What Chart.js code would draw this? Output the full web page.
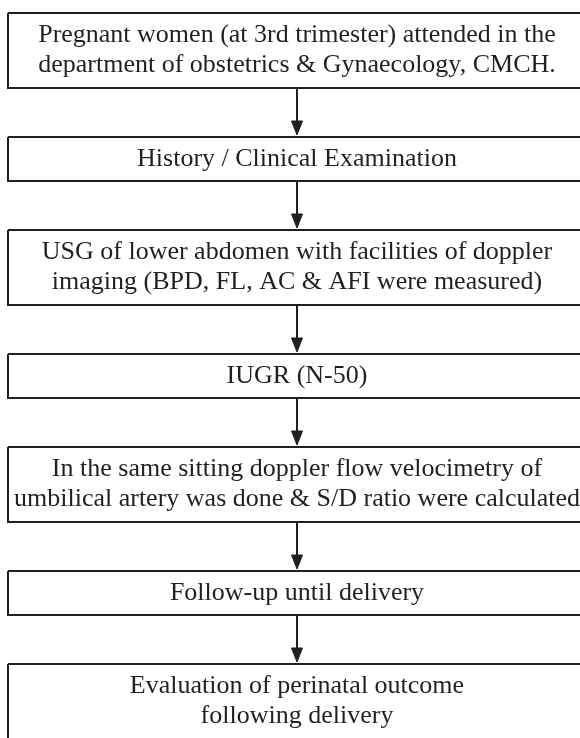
<!DOCTYPE html>
<html>
<head>
<meta charset="utf-8">
<script src="https://cdn.jsdelivr.net/npm/chart.js@4/dist/chart.umd.min.js"></script>
<style>
  html, body { margin: 0; padding: 0; background: #ffffff; }
  #wrap { width: 580px; height: 738px; position: relative; }
</style>
</head>
<body>
<div id="wrap"><canvas id="c" width="580" height="738"></canvas></div>
<script>
// ---- Flowchart content (steps, top to bottom) ----
const steps = [
  ["Pregnant women (at 3rd trimester) attended in the", "department of obstetrics & Gynaecology, CMCH."],
  ["History / Clinical Examination"],
  ["USG of lower abdomen with facilities of doppler", "imaging (BPD, FL, AC & AFI were measured)"],
  ["IUGR (N-50)"],
  ["In the same sitting doppler flow velocimetry of", "umbilical artery was done & S/D ratio were calculated"],
  ["Follow-up until delivery"],
  ["Evaluation of perinatal outcome", "following delivery"]
];

// ---- Layout / style (kept separate from content) ----
const W = 580, H = 738;
const layout = {
  left: 8, right: 586, top: 13,
  oneLineH: 44, twoLineH: 75, gap: 49,
  arrowX: 297, tipGap: 2, headLen: 14, headHalf: 5.5,
  lineH: 30, font: '26px "Liberation Serif", "Times New Roman", serif',
  ink: '#231f20', lw: 2
};

// compute box extents from number of text lines
const boxes = [];
let yCur = layout.top;
steps.forEach(lines => {
  const h = lines.length > 1 ? layout.twoLineH : layout.oneLineH;
  boxes.push({ top: yCur, bottom: yCur + h, lines });
  yCur += h + layout.gap;
});

const datasets = [];
boxes.forEach(b => {
  datasets.push({
    data: [
      { x: layout.left, y: b.top }, { x: layout.right, y: b.top },
      { x: layout.right, y: b.bottom }, { x: layout.left, y: b.bottom },
      { x: layout.left, y: b.top }
    ],
    showLine: true, borderColor: layout.ink, borderWidth: layout.lw,
    pointRadius: 0, tension: 0, fill: false, borderJoinStyle: 'miter'
  });
});
for (let i = 0; i < boxes.length - 1; i++) {
  const from = boxes[i].bottom, tip = boxes[i + 1].top - layout.tipGap;
  const cx = layout.arrowX;
  datasets.push({
    data: [{ x: cx, y: from }, { x: cx, y: tip - layout.headLen + 2 }],
    showLine: true, borderColor: layout.ink, borderWidth: layout.lw,
    pointRadius: 0, fill: false
  });
  datasets.push({
    data: [
      { x: cx - layout.headHalf, y: tip - layout.headLen },
      { x: cx + layout.headHalf, y: tip - layout.headLen },
      { x: cx, y: tip },
      { x: cx - layout.headHalf, y: tip - layout.headLen }
    ],
    showLine: true, borderColor: layout.ink, borderWidth: 1,
    backgroundColor: layout.ink, pointRadius: 0, fill: 'shape'
  });
}

const textPlugin = {
  id: 'boxText',
  afterDatasetsDraw(chart) {
    const { ctx, scales } = chart;
    ctx.save();
    ctx.fillStyle = layout.ink;
    ctx.font = layout.font;
    ctx.textAlign = 'center';
    ctx.textBaseline = 'middle';
    boxes.forEach(b => {
      const cxv = (layout.left + layout.right) / 2;
      const cyv = (b.top + b.bottom) / 2;
      const n = b.lines.length;
      b.lines.forEach((t, k) => {
        const yv = cyv + (k - (n - 1) / 2) * layout.lineH;
        ctx.fillText(t, scales.x.getPixelForValue(layout.arrowX), scales.y.getPixelForValue(yv));
      });
    });
    ctx.restore();
  }
};

new Chart(document.getElementById('c'), {
  type: 'scatter',
  data: { datasets },
  options: {
    responsive: false, animation: false,
    layout: { padding: 0 },
    plugins: { legend: { display: false }, tooltip: { enabled: false } },
    scales: {
      x: { type: 'linear', min: 0, max: W, display: false },
      y: { type: 'linear', min: 0, max: H, reverse: true, display: false }
    }
  },
  plugins: [textPlugin]
});
</script>
</body>
</html>
